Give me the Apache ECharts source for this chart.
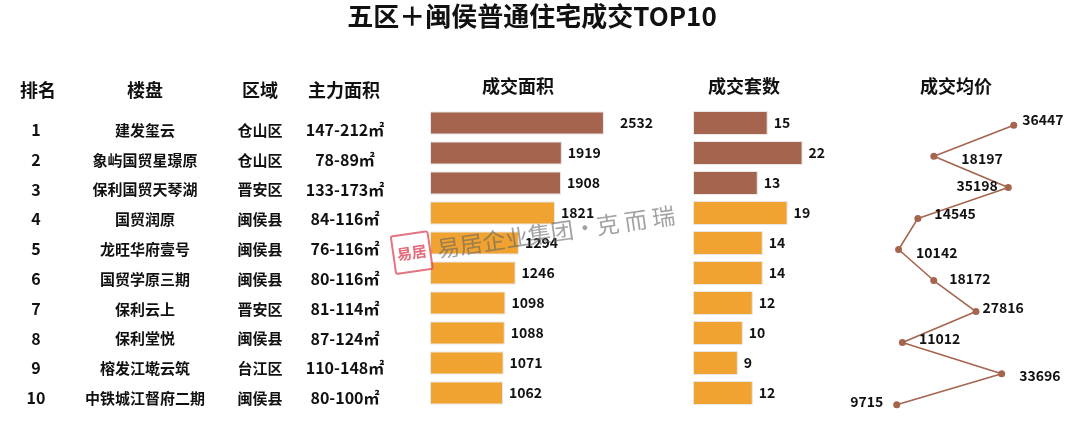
<!DOCTYPE html>
<html>
<head>
<meta charset="utf-8">
<script src="https://cdn.jsdelivr.net/npm/echarts@6/dist/echarts.min.js"></script>
<style>
html,body{margin:0;padding:0;background:#fff;}
#c{width:1080px;height:421px;}
</style>
</head>
<body>
<div id="c"></div>
<script>
const ranks = ['1','2','3','4','5','6','7','8','9','10'];
const names = ['建发玺云','象屿国贸星璟原','保利国贸天琴湖','国贸润原','龙旺华府壹号','国贸学原三期','保利云上','保利堂悦','榕发江墘云筑','中铁城江督府二期'];
const regions = ['仓山区','仓山区','晋安区','闽侯县','闽侯县','闽侯县','晋安区','闽侯县','台江区','闽侯县'];
const mainAreas = ['147-212㎡','78-89㎡','133-173㎡','84-116㎡','76-116㎡','80-116㎡','81-114㎡','87-124㎡','110-148㎡','80-100㎡'];
const dealArea = [2532,1919,1908,1821,1294,1246,1098,1088,1071,1062];
const dealUnits = [15,22,13,19,14,14,12,10,9,12];
const avgPrice = [36447,18197,35198,14545,10142,18172,27816,11012,33696,9715];
const titleText = '五区＋闽侯普通住宅成交TOP10';
const colHeaders = ['排名','楼盘','区域','主力面积'];
const chartHeaders = ['成交面积','成交套数','成交均价'];

// label placement style for the price line (side, gap, vertical shift)
const priceLabelStyle = [['right',5,-6],['right',24,2],['left',7,-2],['right',13,-5],['right',14,3],['right',12,-2],['right',3,-4],['right',13,-4],['right',14,2],['left',10,-3]];

const BROWN = '#a5644e';
const ORANGE = '#f0a330';
const FONT = '"Noto Sans CJK SC", "Noto Sans", sans-serif';
const TXT = '#111';

const chart = echarts.init(document.getElementById('c'), null, {renderer:'canvas'});

const textCols = [
  {data: ranks, cx: 36, size: 16},
  {data: names, cx: 145, size: 15},
  {data: regions, cx: 260, size: 15},
  {data: mainAreas, cx: 345, size: 16}
];
const headerX = [38, 145, 260, 344];
const chartHeaderX = [518, 744, 956];

const grids = [], xAxes = [], yAxes = [], series = [];
textCols.forEach((c, i) => {
  grids.push({left: c.cx, width: 1, top: 115.1, height: 298, outerBoundsMode: 'none'});
  xAxes.push({gridIndex: i, type: 'value', show: false});
  yAxes.push({gridIndex: i, type: 'category', data: c.data, inverse: true,
    axisLine: {show: false}, axisTick: {show: false}, splitLine: {show: false},
    axisLabel: {show: true, align: 'center', margin: 0, fontSize: c.size, fontWeight: 'bold', color: TXT, fontFamily: FONT}});
  series.push({type: 'scatter', xAxisIndex: i, yAxisIndex: i, data: [], silent: true});
});

// area bars
let gi = grids.length;
grids.push({left: 430, width: 206.1, top: 108, height: 300, outerBoundsMode: 'none'});
xAxes.push({gridIndex: gi, type: 'value', min: 0, max: 3000, show: false});
yAxes.push({gridIndex: gi, type: 'category', data: ranks, inverse: true, show: false});
series.push({type: 'bar', xAxisIndex: gi, yAxisIndex: gi, barWidth: 23,
  data: dealArea.map((v, i) => ({value: v, itemStyle: {color: i < 3 ? BROWN : ORANGE},
    label: i === 0 ? {distance: 16} : {}})),
  itemStyle: {borderColor: '#e8e8e8', borderWidth: 1},
  label: {show: true, position: 'right', distance: 6, fontSize: 14, fontWeight: 'bold', color: TXT, fontFamily: FONT}});

// units bars
gi = grids.length;
grids.push({left: 693, width: 124.5, top: 108, height: 300, outerBoundsMode: 'none'});
xAxes.push({gridIndex: gi, type: 'value', min: 0, max: 25, show: false});
yAxes.push({gridIndex: gi, type: 'category', data: ranks, inverse: true, show: false});
series.push({type: 'bar', xAxisIndex: gi, yAxisIndex: gi, barWidth: 24,
  data: dealUnits.map((v, i) => ({value: v, itemStyle: {color: i < 3 ? BROWN : ORANGE}})),
  itemStyle: {borderColor: '#e8e8e8', borderWidth: 1},
  label: {show: true, position: 'right', distance: 6, fontSize: 14, fontWeight: 'bold', color: TXT, fontFamily: FONT}});

// price line
gi = grids.length;
grids.push({left: 854.2, width: 175.1, top: 125.3, height: 279.4, outerBoundsMode: 'none'});
xAxes.push({gridIndex: gi, type: 'value', min: 0, max: 40000, show: false});
yAxes.push({gridIndex: gi, type: 'category', data: ranks, inverse: true, boundaryGap: false, show: false});
series.push({type: 'line', xAxisIndex: gi, yAxisIndex: gi, symbol: 'circle', symbolSize: 7,
  lineStyle: {color: BROWN, width: 1.6}, itemStyle: {color: BROWN},
  data: avgPrice.map((v, i) => {
    const s = priceLabelStyle[i];
    return {value: [v, ranks[i]], label: {position: s[0], distance: s[1], offset: [0, s[2]]}};
  }),
  label: {show: true, fontSize: 14, fontWeight: 'bold', color: TXT, fontFamily: FONT}});

const graphics = [];
graphics.push({type: 'text', x: 532, y: 16, style: {text: titleText, textAlign: 'center', textVerticalAlign: 'middle',
  font: 'bold 26px ' + FONT, fill: TXT}});
colHeaders.forEach((h, i) => graphics.push({type: 'text', x: headerX[i], y: 90,
  style: {text: h, textAlign: 'center', textVerticalAlign: 'middle', font: 'bold 18px ' + FONT, fill: TXT}}));
chartHeaders.forEach((h, i) => graphics.push({type: 'text', x: chartHeaderX[i], y: 86,
  style: {text: h, textAlign: 'center', textVerticalAlign: 'middle', font: 'bold 18px ' + FONT, fill: TXT}}));
// watermark
graphics.push({type: 'group', x: 437, y: 249, rotation: 0.143, silent: true, children: [
  {type: 'text', x: 0, y: 0, z: 100, style: {text: '易居企业集团·克 而 瑞', textAlign: 'left', textVerticalAlign: 'middle',
    font: '23px ' + FONT, fill: 'rgba(100,100,100,0.6)'}},
  {type: 'rect', z: 100, shape: {x: -44, y: -19, width: 37, height: 38, r: 2}, style: {fill: 'rgba(255,255,255,0.3)', stroke: 'rgba(220,70,90,0.75)', lineWidth: 2}},
  {type: 'text', z: 101, x: -25.5, y: 0, style: {text: '易居', textAlign: 'center', textVerticalAlign: 'middle',
    font: 'bold 15px ' + FONT, fill: 'rgba(220,70,90,0.8)'}}
]});

chart.setOption({
  animation: false,
  backgroundColor: '#fff',
  grid: grids, xAxis: xAxes, yAxis: yAxes, series: series,
  graphic: graphics
});
</script>
</body>
</html>
